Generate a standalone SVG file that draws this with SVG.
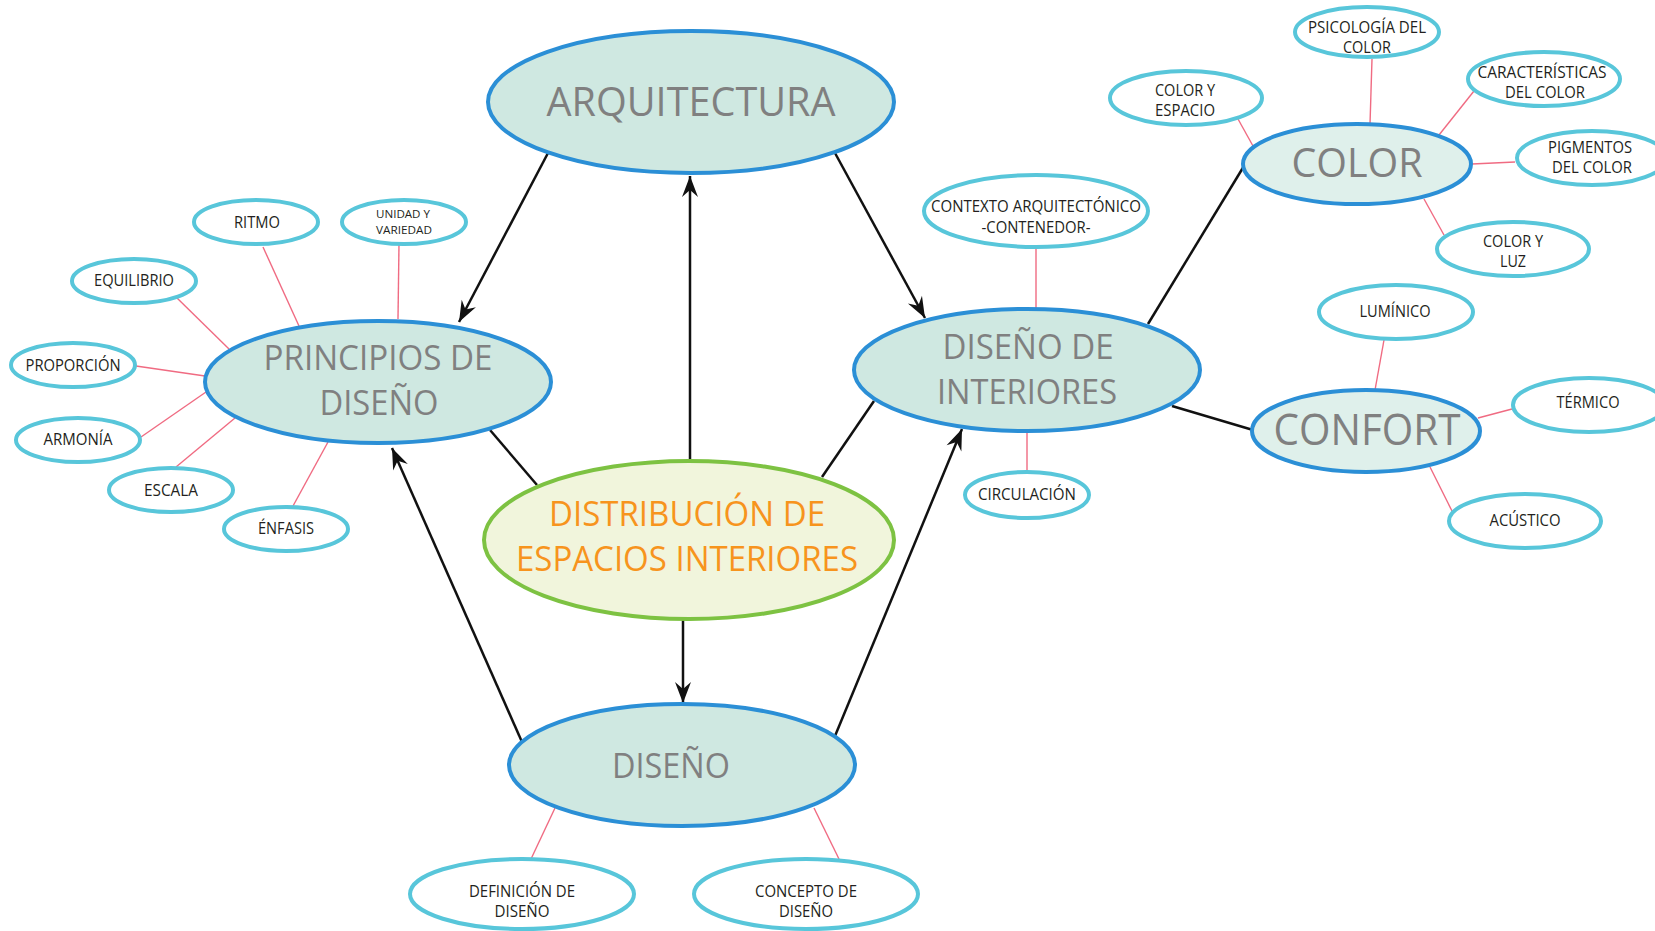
<svg xmlns="http://www.w3.org/2000/svg" width="1655" height="931" viewBox="0 0 1655 931">
<defs>
<style>
.main{fill:#cfe8e1;stroke:#2b8fd6;stroke-width:4}
.main2{fill:#dff0eb;stroke:#2b8fd6;stroke-width:4}
.center{fill:#f1f5dc;stroke:#7dc242;stroke-width:4}
.leaf{fill:#ffffff;stroke:#58c6da;stroke-width:4}
.blk{stroke:#111;stroke-width:2.5;fill:none}
.red{stroke:#f06b82;stroke-width:1.4;fill:none}
.mt{font-family:"Open Sans","Noto Sans","Liberation Sans",sans-serif;fill:#808080;text-anchor:middle}
.ot{font-family:"Open Sans","Noto Sans","Liberation Sans",sans-serif;fill:#f7941d;text-anchor:middle;font-size:34px}
.lt{font-family:"Open Sans","Noto Sans","Liberation Sans",sans-serif;fill:#231f20;text-anchor:middle;font-size:15.5px}
.st{font-family:"Open Sans","Noto Sans","Liberation Sans",sans-serif;fill:#231f20;text-anchor:middle;font-size:11.5px}
</style>
<marker id="arr" viewBox="-22 -10 24 20" refX="0" refY="0" markerWidth="24" markerHeight="20" markerUnits="userSpaceOnUse" orient="auto">
<path d="M0,0 L-21,-8 L-14,0 L-21,8 Z" fill="#111"/>
</marker>
</defs>
<rect width="1655" height="931" fill="#ffffff"/>
<g id="connectors">
<line class="blk" x1="548" y1="153" x2="459" y2="322" marker-end="url(#arr)"/>
<line class="blk" x1="835" y1="153" x2="925" y2="318" marker-end="url(#arr)"/>
<line class="blk" x1="690" y1="461" x2="690" y2="176" marker-end="url(#arr)"/>
<line class="blk" x1="683" y1="620" x2="683" y2="703" marker-end="url(#arr)"/>
<line class="blk" x1="522" y1="742" x2="392" y2="448" marker-end="url(#arr)"/>
<line class="blk" x1="835" y1="736" x2="962" y2="429" marker-end="url(#arr)"/>
<line class="blk" x1="537" y1="485" x2="490" y2="430"/>
<line class="blk" x1="822" y1="477" x2="874" y2="401"/>
<line class="blk" x1="1148" y1="324" x2="1244" y2="166"/>
<line class="blk" x1="1172" y1="406" x2="1253" y2="430"/>
<line class="red" x1="263" y1="247" x2="299" y2="326"/>
<line class="red" x1="399" y1="244" x2="398" y2="319"/>
<line class="red" x1="177" y1="298" x2="229" y2="349"/>
<line class="red" x1="136" y1="366" x2="205" y2="376"/>
<line class="red" x1="141" y1="437" x2="206" y2="392"/>
<line class="red" x1="176" y1="467" x2="235" y2="418"/>
<line class="red" x1="293" y1="506" x2="328" y2="442"/>
<line class="red" x1="1036" y1="247" x2="1036" y2="309"/>
<line class="red" x1="1027" y1="432" x2="1027" y2="473"/>
<line class="red" x1="1372" y1="59" x2="1370" y2="124"/>
<line class="red" x1="1474" y1="91" x2="1439" y2="135"/>
<line class="red" x1="1515" y1="162" x2="1472" y2="164"/>
<line class="red" x1="1444" y1="235" x2="1424" y2="199"/>
<line class="red" x1="1238" y1="119" x2="1253" y2="146"/>
<line class="red" x1="1384" y1="340" x2="1375" y2="390"/>
<line class="red" x1="1512" y1="409" x2="1478" y2="418"/>
<line class="red" x1="1452" y1="511" x2="1430" y2="467"/>
<line class="red" x1="531" y1="859" x2="555" y2="808"/>
<line class="red" x1="839" y1="859" x2="814" y2="808"/>
</g>
<g id="arquitectura">
<ellipse class="main" cx="691" cy="102" rx="203" ry="71"/>
<text class="mt" x="691" y="116" font-size="40" textLength="289" lengthAdjust="spacingAndGlyphs">ARQUITECTURA</text>
</g>
<g id="principios">
<ellipse class="main" cx="378" cy="382" rx="173" ry="61"/>
<text class="mt" x="378" y="370" font-size="34" textLength="229" lengthAdjust="spacingAndGlyphs">PRINCIPIOS DE</text>
<text class="mt" x="379" y="415" font-size="34" textLength="119" lengthAdjust="spacingAndGlyphs">DISEÑO</text>
</g>
<g id="disenoInteriores">
<ellipse class="main" cx="1027" cy="370" rx="173" ry="61"/>
<text class="mt" x="1028" y="359" font-size="34" textLength="171" lengthAdjust="spacingAndGlyphs">DISEÑO DE</text>
<text class="mt" x="1027" y="404" font-size="34" textLength="180" lengthAdjust="spacingAndGlyphs">INTERIORES</text>
</g>
<g id="distribucion">
<ellipse class="center" cx="689" cy="540" rx="205" ry="79"/>
<text class="ot" x="687" y="526" textLength="276" lengthAdjust="spacingAndGlyphs">DISTRIBUCIÓN DE</text>
<text class="ot" x="687" y="571" textLength="342" lengthAdjust="spacingAndGlyphs">ESPACIOS INTERIORES</text>
</g>
<g id="diseno">
<ellipse class="main" cx="682" cy="765" rx="173" ry="61"/>
<text class="mt" x="671" y="778" font-size="34" textLength="118" lengthAdjust="spacingAndGlyphs">DISEÑO</text>
</g>
<g id="color">
<ellipse class="main2" cx="1357" cy="164" rx="114" ry="40"/>
<text class="mt" x="1357" y="177" font-size="40" textLength="131" lengthAdjust="spacingAndGlyphs">COLOR</text>
</g>
<g id="confort">
<ellipse class="main2" cx="1366" cy="431" rx="114" ry="41"/>
<text class="mt" x="1367" y="445" font-size="44" textLength="187" lengthAdjust="spacingAndGlyphs">CONFORT</text>
</g>
<g id="psicologia">
<ellipse class="leaf" cx="1367" cy="32" rx="72" ry="25"/>
<text class="lt" x="1367" y="33" textLength="118" lengthAdjust="spacingAndGlyphs">PSICOLOGÍA DEL</text>
<text class="lt" x="1367" y="53" textLength="48" lengthAdjust="spacingAndGlyphs">COLOR</text>
</g>
<g id="caracteristicas">
<ellipse class="leaf" cx="1544" cy="79" rx="76" ry="27"/>
<text class="lt" x="1542" y="78" textLength="129" lengthAdjust="spacingAndGlyphs">CARACTERÍSTICAS</text>
<text class="lt" x="1545" y="98" textLength="80" lengthAdjust="spacingAndGlyphs">DEL COLOR</text>
</g>
<g id="pigmentos">
<ellipse class="leaf" cx="1592" cy="158" rx="75" ry="27"/>
<text class="lt" x="1590" y="153" textLength="84" lengthAdjust="spacingAndGlyphs">PIGMENTOS</text>
<text class="lt" x="1592" y="173" textLength="80" lengthAdjust="spacingAndGlyphs">DEL COLOR</text>
</g>
<g id="colorLuz">
<ellipse class="leaf" cx="1513" cy="249" rx="76" ry="27"/>
<text class="lt" x="1513" y="247" textLength="60" lengthAdjust="spacingAndGlyphs">COLOR Y</text>
<text class="lt" x="1513" y="267" textLength="26" lengthAdjust="spacingAndGlyphs">LUZ</text>
</g>
<g id="colorEspacio">
<ellipse class="leaf" cx="1186" cy="98" rx="76" ry="27"/>
<text class="lt" x="1185" y="96" textLength="60" lengthAdjust="spacingAndGlyphs">COLOR Y</text>
<text class="lt" x="1185" y="116" textLength="60" lengthAdjust="spacingAndGlyphs">ESPACIO</text>
</g>
<g id="luminico">
<ellipse class="leaf" cx="1396" cy="312" rx="77" ry="27"/>
<text class="lt" x="1395" y="317" textLength="71" lengthAdjust="spacingAndGlyphs">LUMÍNICO</text>
</g>
<g id="termico">
<ellipse class="leaf" cx="1589" cy="405" rx="76" ry="27"/>
<text class="lt" x="1588" y="408" textLength="63" lengthAdjust="spacingAndGlyphs">TÉRMICO</text>
</g>
<g id="acustico">
<ellipse class="leaf" cx="1525" cy="521" rx="76" ry="27"/>
<text class="lt" x="1525" y="526" textLength="71" lengthAdjust="spacingAndGlyphs">ACÚSTICO</text>
</g>
<g id="contexto">
<ellipse class="leaf" cx="1036" cy="211" rx="112" ry="36"/>
<text class="lt" x="1036" y="212" textLength="210" lengthAdjust="spacingAndGlyphs">CONTEXTO ARQUITECTÓNICO</text>
<text class="lt" x="1036" y="233" textLength="109" lengthAdjust="spacingAndGlyphs">-CONTENEDOR-</text>
</g>
<g id="circulacion">
<ellipse class="leaf" cx="1027" cy="495" rx="62" ry="23"/>
<text class="lt" x="1027" y="500" textLength="98" lengthAdjust="spacingAndGlyphs">CIRCULACIÓN</text>
</g>
<g id="ritmo">
<ellipse class="leaf" cx="256" cy="222" rx="62" ry="22"/>
<text class="lt" x="257" y="228" textLength="46" lengthAdjust="spacingAndGlyphs">RITMO</text>
</g>
<g id="unidad">
<ellipse class="leaf" cx="404" cy="222" rx="62" ry="22"/>
<text class="st" x="403" y="218" textLength="54" lengthAdjust="spacingAndGlyphs">UNIDAD Y</text>
<text class="st" x="404" y="234" textLength="56" lengthAdjust="spacingAndGlyphs">VARIEDAD</text>
</g>
<g id="equilibrio">
<ellipse class="leaf" cx="134" cy="281" rx="62" ry="22"/>
<text class="lt" x="134" y="286" textLength="80" lengthAdjust="spacingAndGlyphs">EQUILIBRIO</text>
</g>
<g id="proporcion">
<ellipse class="leaf" cx="73" cy="365" rx="62" ry="22"/>
<text class="lt" x="73" y="371" textLength="95" lengthAdjust="spacingAndGlyphs">PROPORCIÓN</text>
</g>
<g id="armonia">
<ellipse class="leaf" cx="78" cy="440" rx="62" ry="22"/>
<text class="lt" x="78" y="445" textLength="69" lengthAdjust="spacingAndGlyphs">ARMONÍA</text>
</g>
<g id="escala">
<ellipse class="leaf" cx="171" cy="490" rx="62" ry="22"/>
<text class="lt" x="171" y="496" textLength="54" lengthAdjust="spacingAndGlyphs">ESCALA</text>
</g>
<g id="enfasis">
<ellipse class="leaf" cx="286" cy="529" rx="62" ry="22"/>
<text class="lt" x="286" y="534" textLength="56" lengthAdjust="spacingAndGlyphs">ÉNFASIS</text>
</g>
<g id="definicion">
<ellipse class="leaf" cx="522" cy="894" rx="112" ry="35"/>
<text class="lt" x="522" y="897" textLength="106" lengthAdjust="spacingAndGlyphs">DEFINICIÓN DE</text>
<text class="lt" x="522" y="917" textLength="55" lengthAdjust="spacingAndGlyphs">DISEÑO</text>
</g>
<g id="concepto">
<ellipse class="leaf" cx="806" cy="894" rx="112" ry="35"/>
<text class="lt" x="806" y="897" textLength="102" lengthAdjust="spacingAndGlyphs">CONCEPTO DE</text>
<text class="lt" x="806" y="917" textLength="54" lengthAdjust="spacingAndGlyphs">DISEÑO</text>
</g>
</svg>
